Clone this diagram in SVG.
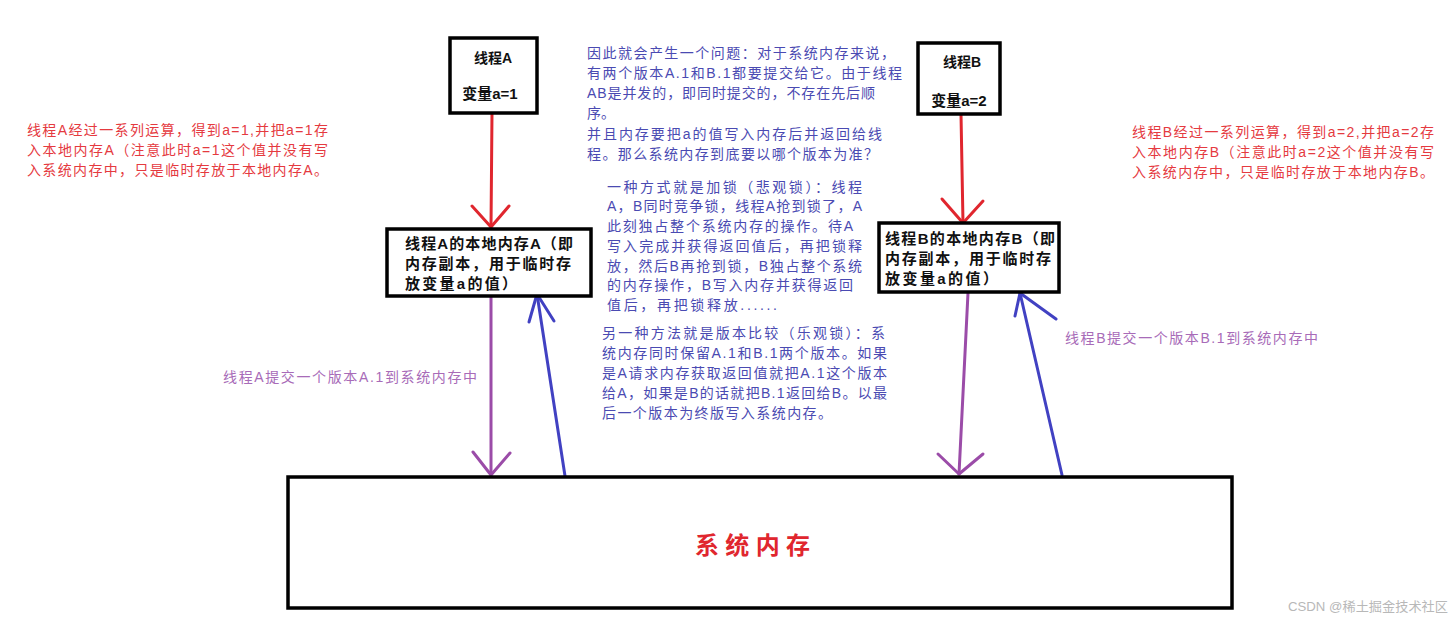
<svg xmlns="http://www.w3.org/2000/svg" width="1455" height="625" viewBox="0 0 1455 625">
<style>
.box{fill:#fff;stroke:#000;stroke-width:3.5}
.bt{font-family:"Liberation Sans","Noto Sans CJK SC",sans-serif;font-weight:bold;fill:#111}
.t{font-family:"Liberation Sans","Noto Sans CJK SC",sans-serif;font-size:14px}
.red{fill:#e53a3f}
.blue{fill:#4a4ab2}
.pur{fill:#a86bb8}
.lr{fill:none;stroke:#e0262e;stroke-width:3;stroke-linecap:round;stroke-linejoin:round}
.lp{fill:none;stroke:#9b4ca8;stroke-width:3;stroke-linecap:round;stroke-linejoin:round}
.lb{fill:none;stroke:#4141c2;stroke-width:3;stroke-linecap:round;stroke-linejoin:round}
</style>
<rect width="1455" height="625" fill="#fff"/>

<g id="connectors">
  <path class="lr" d="M492,113 L491,227"/>
  <path class="lr" d="M472,206 L491,227 L509,206"/>
  <path class="lr" d="M961,114 L963,223"/>
  <path class="lr" d="M942,199 L963,223 L983,201"/>
  <path class="lp" d="M491,297 L491,475"/>
  <path class="lp" d="M473,452 L491,475 L510,453"/>
  <path class="lb" d="M565,476 L537,294"/>
  <path class="lb" d="M529,322 L537,294 L554,321"/>
  <path class="lp" d="M968,293 L959,474"/>
  <path class="lp" d="M938,454 L959,474 L983,454"/>
  <path class="lb" d="M1062,475 L1020,293"/>
  <path class="lb" d="M1015,316 L1020,293 L1056,319"/>
</g>

<g id="thread-a">
  <rect class="box" x="450" y="38" width="87" height="75"/>
  <text class="bt" x="493" y="63" font-size="14" text-anchor="middle">线程A</text>
  <text class="bt" x="490" y="99" font-size="15" text-anchor="middle">变量a=1</text>
</g>
<g id="thread-b">
  <rect class="box" x="918" y="43" width="82" height="71"/>
  <text class="bt" x="962" y="67" font-size="14" text-anchor="middle">线程B</text>
  <text class="bt" x="959" y="106" font-size="15" text-anchor="middle">变量a=2</text>
</g>
<g id="local-a">
  <rect class="box" x="387" y="229" width="204" height="67"/>
  <text class="bt" font-size="15" x="405" y="249" textLength="168" lengthAdjust="spacing">线程A的本地内存A（即</text>
  <text class="bt" font-size="15" x="405" y="269" textLength="166" lengthAdjust="spacing">内存副本，用于临时存</text>
  <text class="bt" font-size="15" x="405" y="289" textLength="112" lengthAdjust="spacing">放变量a的值）</text>
</g>
<g id="local-b">
  <rect class="box" x="879" y="223" width="180" height="69"/>
  <text class="bt" font-size="15" x="885" y="244" textLength="170" lengthAdjust="spacing">线程B的本地内存B（即</text>
  <text class="bt" font-size="15" x="885" y="264" textLength="166" lengthAdjust="spacing">内存副本，用于临时存</text>
  <text class="bt" font-size="15" x="885" y="284" textLength="113" lengthAdjust="spacing">放变量a的值）</text>
</g>
<g id="system-memory">
  <rect class="box" x="288" y="477" width="944" height="131"/>
  <text x="695" y="554" font-family="'Noto Sans CJK SC',sans-serif" font-size="24" font-weight="bold" fill="#e0262e" textLength="115" lengthAdjust="spacing">系统内存</text>
</g>

<g id="note-a" class="t red">
  <text x="27" y="135" textLength="301" lengthAdjust="spacing">线程A经过一系列运算，得到a=1,并把a=1存</text>
  <text x="27" y="155" textLength="301" lengthAdjust="spacing">入本地内存A（注意此时a=1这个值并没有写</text>
  <text x="27" y="175" textLength="301" lengthAdjust="spacing">入系统内存中，只是临时存放于本地内存A。</text>
</g>
<g id="note-b" class="t red">
  <text x="1132" y="137" textLength="302" lengthAdjust="spacing">线程B经过一系列运算，得到a=2,并把a=2存</text>
  <text x="1132" y="157" textLength="302" lengthAdjust="spacing">入本地内存B（注意此时a=2这个值并没有写</text>
  <text x="1132" y="177" textLength="302" lengthAdjust="spacing">入系统内存中，只是临时存放于本地内存B。</text>
</g>
<g id="note-problem" class="t blue">
  <text x="587" y="58" textLength="308" lengthAdjust="spacing">因此就会产生一个问题：对于系统内存来说，</text>
  <text x="587" y="78" textLength="315" lengthAdjust="spacing">有两个版本A.1和B.1都要提交给它。由于线程</text>
  <text x="587" y="98" textLength="288" lengthAdjust="spacing">AB是并发的，即同时提交的，不存在先后顺</text>
  <text x="587" y="118">序。</text>
  <text x="587" y="139" textLength="295" lengthAdjust="spacing">并且内存要把a的值写入内存后并返回给线</text>
  <text x="587" y="159" textLength="291" lengthAdjust="spacing">程。那么系统内存到底要以哪个版本为准？</text>
</g>
<g id="note-lock" class="t blue">
  <text x="607" y="192" textLength="255" lengthAdjust="spacing">一种方式就是加锁（悲观锁）：线程</text>
  <text x="607" y="211" textLength="255" lengthAdjust="spacing">A，B同时竞争锁，线程A抢到锁了，A</text>
  <text x="607" y="231" textLength="246" lengthAdjust="spacing">此刻独占整个系统内存的操作。待A</text>
  <text x="607" y="251" textLength="255" lengthAdjust="spacing">写入完成并获得返回值后，再把锁释</text>
  <text x="607" y="271" textLength="255" lengthAdjust="spacing">放，然后B再抢到锁，B独占整个系统</text>
  <text x="607" y="290" textLength="246" lengthAdjust="spacing">的内存操作，B写入内存并获得返回</text>
  <text x="607" y="310" textLength="170" lengthAdjust="spacing">值后，再把锁释放......</text>
</g>
<g id="note-version" class="t blue">
  <text x="602" y="338" textLength="283" lengthAdjust="spacing">另一种方法就是版本比较（乐观锁）：系</text>
  <text x="602" y="358" textLength="285" lengthAdjust="spacing">统内存同时保留A.1和B.1两个版本。如果</text>
  <text x="602" y="378" textLength="285" lengthAdjust="spacing">是A请求内存获取返回值就把A.1这个版本</text>
  <text x="602" y="398" textLength="285" lengthAdjust="spacing">给A，如果是B的话就把B.1返回给B。以最</text>
  <text x="602" y="418" textLength="230" lengthAdjust="spacing">后一个版本为终版写入系统内存。</text>
</g>
<g id="label-a" class="t pur">
  <text x="223" y="382" textLength="254" lengthAdjust="spacing">线程A提交一个版本A.1到系统内存中</text>
</g>
<g id="label-b" class="t pur">
  <text x="1065" y="343" textLength="253" lengthAdjust="spacing">线程B提交一个版本B.1到系统内存中</text>
</g>
<g id="watermark">
  <text x="1288" y="611" font-family="'Liberation Sans','Noto Sans CJK SC',sans-serif" font-size="13" fill="#b8b8b8" textLength="160" lengthAdjust="spacingAndGlyphs">CSDN @稀土掘金技术社区</text>
</g>
</svg>
